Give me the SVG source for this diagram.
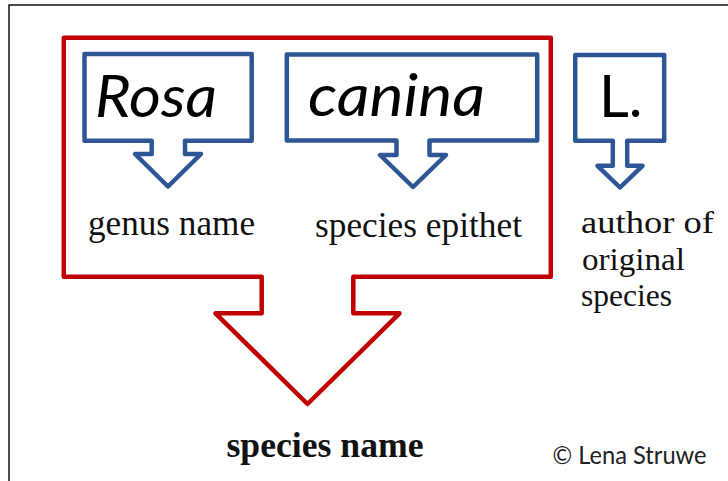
<svg xmlns="http://www.w3.org/2000/svg" width="728" height="481" viewBox="0 0 728 481">
  <style>
    .blue { fill: #ffffff; stroke: #2E5694; stroke-width: 4.5; stroke-linejoin: round; }
    .red { fill: none; stroke: #C00000; stroke-width: 4.5; stroke-linejoin: round; }
    .big { font-family: Lato, "Open Sans", "Liberation Sans", sans-serif; font-size: 58px; fill: #000; }
    .it { font-style: italic; }
    .serif { font-family: "Liberation Serif", "Times New Roman", serif; font-size: 36px; fill: #111; }
    .bold { font-weight: bold; }
    .auth { font-size: 31px; }
    .copy { font-family: Lato, "Open Sans", "Liberation Sans", sans-serif; font-size: 25px; fill: #222; }
  </style>
  <rect width="728" height="481" fill="#ffffff"/>
  <path d="M9,481 V5 H728" fill="none" stroke="#111" stroke-width="1.5"/>

  <g id="species-name-frame">
    <path class="red" d="M63.8,37.8 H550.8 V276.7 H353.3 V313.3 H399.5 L307.5,404 L215.5,313.3 H261.7 V276.7 H63.8 Z"/>
    <text class="serif bold" x="226.5" y="456.5" textLength="197" lengthAdjust="spacingAndGlyphs">species name</text>
  </g>

  <g id="genus">
    <path class="blue" d="M84.5,54 H251.7 V140.8 H185 V154 H201 L168,186.5 L135,154 H151.7 V140.8 H84.5 Z"/>
    <text class="big it" x="95" y="117" textLength="122" lengthAdjust="spacingAndGlyphs">Rosa</text>
    <text class="serif" x="88" y="235" textLength="167" lengthAdjust="spacingAndGlyphs">genus name</text>
  </g>

  <g id="epithet">
    <path class="blue" d="M286.8,54.5 H537.2 V140.5 H429.5 V155 H446 L413,187 L380,155 H396.5 V140.5 H286.8 Z"/>
    <text class="big it" x="308" y="115.5" textLength="177" lengthAdjust="spacingAndGlyphs">canina</text>
    <text class="serif" x="315" y="236.5" textLength="207" lengthAdjust="spacingAndGlyphs">species epithet</text>
  </g>

  <g id="author">
    <path class="blue" d="M575.2,55 H664.2 V140.8 H627.2 V165.8 H642.5 L620,187.5 L597.5,165.8 H612.8 V140.8 H575.2 Z"/>
    <text class="big" x="599" y="117" font-size="57">L.</text>
    <text class="serif auth" x="581" y="233" textLength="133" lengthAdjust="spacingAndGlyphs">author of</text>
    <text class="serif auth" x="582" y="269.5" textLength="103" lengthAdjust="spacingAndGlyphs">original</text>
    <text class="serif auth" x="581" y="306" textLength="91" lengthAdjust="spacingAndGlyphs">species</text>
  </g>

  <g id="connectors"/>

  <g id="credit">
    <text class="copy" x="552.5" y="463.5" textLength="154" lengthAdjust="spacingAndGlyphs">© Lena Struwe</text>
  </g>
</svg>
